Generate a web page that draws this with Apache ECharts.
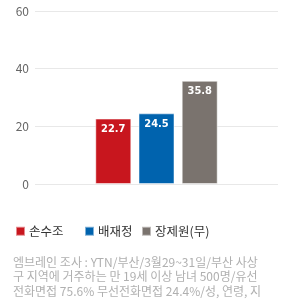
<!DOCTYPE html>
<html><head><meta charset="utf-8">
<script src="https://cdn.jsdelivr.net/npm/echarts@6/dist/echarts.min.js"></script>
<style>html,body{margin:0;padding:0;background:#fff}#c{width:300px;height:300px}</style>
</head><body><div id="c"></div>
<script>
const categories = ['조사'];
const seriesNames = ['손수조', '배재정', '장제원(무)'];
const values = [22.7, 24.5, 35.8];
const colors = ['#c8161e', '#0063ae', '#7a736e'];
const yTicks = [0, 20, 40, 60];
const noteLines = [
  '엠브레인 조사 : YTN/부산/3월29~31일/부산 사상',
  '구 지역에 거주하는 만 19세 이상 남녀 500명/유선',
  '전화면접 75.6% 무선전화면접 24.4%/성, 연령, 지'
];
const legendLefts = [10, 79, 136];
const chart = echarts.init(document.getElementById('c'), null, {renderer: 'canvas'});
chart.setOption({
  animation: false,
  textStyle: {fontFamily: '"Noto Sans CJK KR", "Noto Sans", sans-serif'},
  title: {
    text: noteLines.join('\n'),
    left: 8, top: 250,
    textStyle: {fontSize: 12, fontWeight: 'normal', color: '#b0b0b0', lineHeight: 14.5, fontFamily: '"Noto Sans CJK KR", sans-serif'}
  },
  legend: seriesNames.map((n, i) => ({
    left: legendLefts[i], top: 220,
    itemWidth: 9, itemHeight: 9,
    icon: 'rect',
    textStyle: {fontSize: 12.5, color: '#333', padding: [0, 0, 0, -1]},
    data: [n]
  })),
  grid: {left: 35, right: 22, top: 11, bottom: 116},
  xAxis: {
    type: 'category', data: categories,
    axisLine: {show: false}, axisTick: {show: false}, axisLabel: {show: false}
  },
  yAxis: {
    type: 'value', min: yTicks[0], max: yTicks[yTicks.length - 1], interval: 20,
    axisLabel: {color: '#666', fontSize: 12, margin: 6},
    splitLine: {lineStyle: {color: '#e8e8e8', width: 1}},
    axisLine: {show: false}, axisTick: {show: false}
  },
  series: seriesNames.map((n, i) => ({
    name: n, type: 'bar',
    data: [values[i]],
    barWidth: 36, barGap: '20%',
    itemStyle: {color: colors[i], borderColor: 'rgba(255,255,255,0.5)', borderWidth: 1},
    label: {show: true, position: 'insideTop', distance: 5, color: '#fff', fontSize: 11, fontWeight: 'bold', fontFamily: '"Liberation Sans Narrow", "DejaVu Sans Condensed", sans-serif'}
  }))
});
</script></body></html>
